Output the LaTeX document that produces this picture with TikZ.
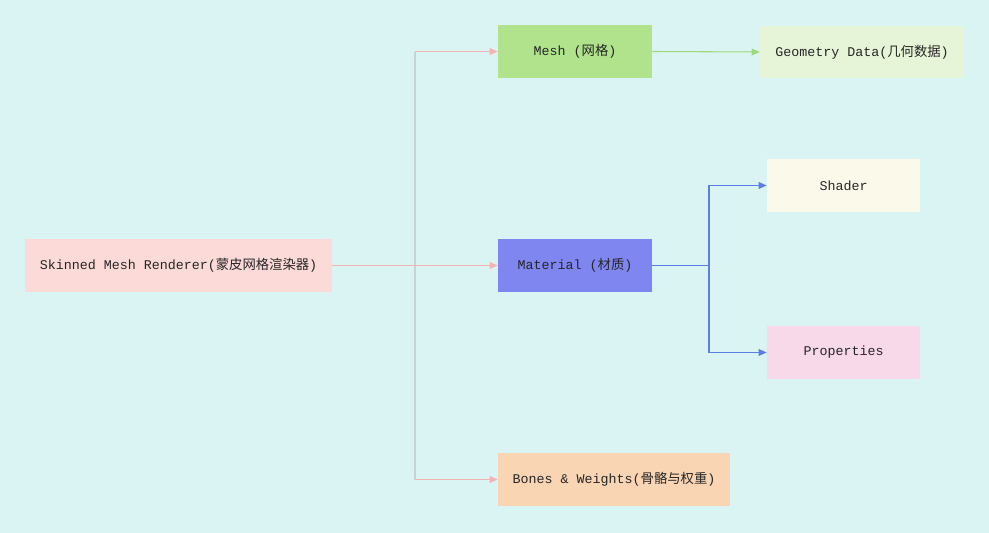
\documentclass[tikz,border=0pt]{standalone}
\usepackage{fontspec}
\setmonofont{Liberation Mono}
\newfontfamily\cjk{Noto Sans CJK SC}
\newcommand{\zh}[1]{{\cjk #1}}
\usetikzlibrary{arrows.meta}
\definecolor{bg}{HTML}{DAF4F4}
\definecolor{cskin}{HTML}{FBDAD7}
\definecolor{cmesh}{HTML}{B0E38B}
\definecolor{cgeo}{HTML}{E6F4D8}
\definecolor{cshader}{HTML}{FBF9EA}
\definecolor{cmat}{HTML}{7F86EF}
\definecolor{cprop}{HTML}{F7D9EA}
\definecolor{cbone}{HTML}{F9D5B4}
\definecolor{lpink}{HTML}{F4B3B3}
\definecolor{lgreen}{HTML}{9DD97A}
\definecolor{lblue}{HTML}{5B7FE6}
\definecolor{lgrey}{HTML}{C8D4D4}
\begin{document}
\begin{tikzpicture}[x=0.75pt,y=-0.75pt,
  box/.style={inner sep=0pt,font=\ttfamily\fontsize{10}{12}\selectfont,text=black!85},
  arr/.style={-{Triangle[length=6pt,width=5pt]},line width=0.8pt}]
\useasboundingbox (0,0) rectangle (989,532);
\fill[bg,overlay] (-3,-3) rectangle (992,535);
\node[box,fill=cskin,minimum width=230.25pt,minimum height=39.75pt] (skin) at (178.5,265.5) {Skinned Mesh Renderer(\zh{蒙皮网格渲染器})};
\node[box,fill=cmesh,minimum width=115.5pt,minimum height=39.75pt] (mesh) at (575,51.5) {Mesh (\zh{网格})};
\node[box,fill=cgeo,minimum width=153pt,minimum height=39pt] (geo) at (862,52) {Geometry Data(\zh{几何数据})};
\node[box,fill=cshader,minimum width=114.75pt,minimum height=39.75pt] (shader) at (843.5,185.5) {Shader};
\node[box,fill=cmat,minimum width=115.5pt,minimum height=39.75pt] (mat) at (575,265.5) {Material (\zh{材质})};
\node[box,fill=cprop,minimum width=114.75pt,minimum height=39.75pt] (prop) at (843.5,352.5) {Properties};
\node[box,fill=cbone,minimum width=174pt,minimum height=39.75pt] (bone) at (614,479.5) {Bones \& Weights(\zh{骨骼与权重})};
\coordinate (j1) at (415,51.5);
\coordinate (j3) at (415,479.5);
\draw[lgrey,line width=0.8pt] (j1) -- (j3);
\draw[arr,lpink] (j1) -- (mesh.west);
\draw[arr,lpink] (skin.east) -- (mat.west);
\draw[arr,lpink] (j3) -- (bone.west);
\draw[arr,lgreen] (mesh.east) -- (geo.west);
\coordinate (k) at (709,265.5);
\draw[arr,lblue] (mat.east) -- (k) |- (shader.west);
\draw[arr,lblue] (k) |- (prop.west);
\end{tikzpicture}
\end{document}
